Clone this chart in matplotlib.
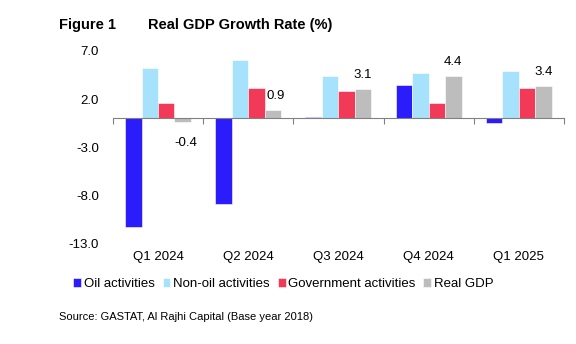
import numpy as np
from matplotlib import pyplot as plt

plt.rcParams['font.family'] = ['Liberation Sans', 'DejaVu Sans']

quarters = ["Q1 2024", "Q2 2024", "Q3 2024", "Q4 2024", "Q1 2025"]
oil = [-11.2, -8.9, 0.1, 3.5, -0.5]
non_oil = [5.2, 6.1, 4.4, 4.7, 4.9]
government = [1.6, 3.2, 2.8, 1.6, 3.2]
real_gdp = [-0.4, 0.9, 3.1, 4.4, 3.4]
y_ticks = [7.0, 2.0, -3.0, -8.0, -13.0]

series = [("Oil activities", oil, "#2a1cfb"),
          ("Non-oil activities", non_oil, "#a6e2fc"),
          ("Government activities", government, "#f23a58"),
          ("Real GDP", real_gdp, "#bdbdbd")]

fig = plt.figure(figsize=(5.76, 3.44), dpi=100)
ax = fig.add_axes([0.196, 0.291, 0.783, 0.561])

x = np.arange(len(quarters))
group = 0.73
w = group / len(series)

for i, (name, vals, col) in enumerate(series):
    pos = x - group / 2 + w * (i + 0.5)
    ax.bar(pos, vals, width=w, color=col, edgecolor="white", linewidth=0.4,
           label=name, zorder=2)
    if name == "Real GDP":
        # data labels only on the GDP series
        for px, v in zip(pos, vals):
            off = 10 if v >= 0 else -15
            ax.annotate("%.1f" % v, xy=(px, v), xytext=(2 if v < 1 else 0, off),
                        textcoords="offset points", ha="center", va="center",
                        fontsize=9.5)

ax.set_ylim(-13, 7)
ax.set_xlim(-0.5, len(quarters) - 0.5)
ax.set_yticks(y_ticks)
ax.set_yticklabels(["%.1f" % t for t in y_ticks], fontsize=9.5)
ax.tick_params(axis="y", length=0, pad=10)

for s in ["top", "right", "left"]:
    ax.spines[s].set_visible(False)
ax.spines["bottom"].set_position(("data", 0))
ax.spines["bottom"].set_color("#808080")
ax.spines["bottom"].set_zorder(3)
ax.set_xticks(np.arange(len(quarters) + 1) - 0.5)
ax.set_xticklabels([])
ax.tick_params(axis="x", length=4, color="#808080", direction="out")

for xi, q in zip(x, quarters):
    ax.text(xi, -0.07, q, transform=ax.get_xaxis_transform(),
            ha="center", va="center", fontsize=9.5)

fig.legend(loc="center", bbox_to_anchor=(0.492, 0.174), ncol=4, frameon=False,
           fontsize=9.5, handlelength=0.6, handleheight=0.6, handletextpad=0.2,
           columnspacing=0.6)

fig.text(0.103, 0.927, "Figure 1", fontsize=10.5, fontweight="bold", va="center")
fig.text(0.257, 0.927, "Real GDP Growth Rate (%)", fontsize=10.5,
         fontweight="bold", va="center")
fig.text(0.103, 0.078, "Source: GASTAT, Al Rajhi Capital (Base year 2018)",
         fontsize=8, va="center")

fig.savefig("out.png", dpi=100)
